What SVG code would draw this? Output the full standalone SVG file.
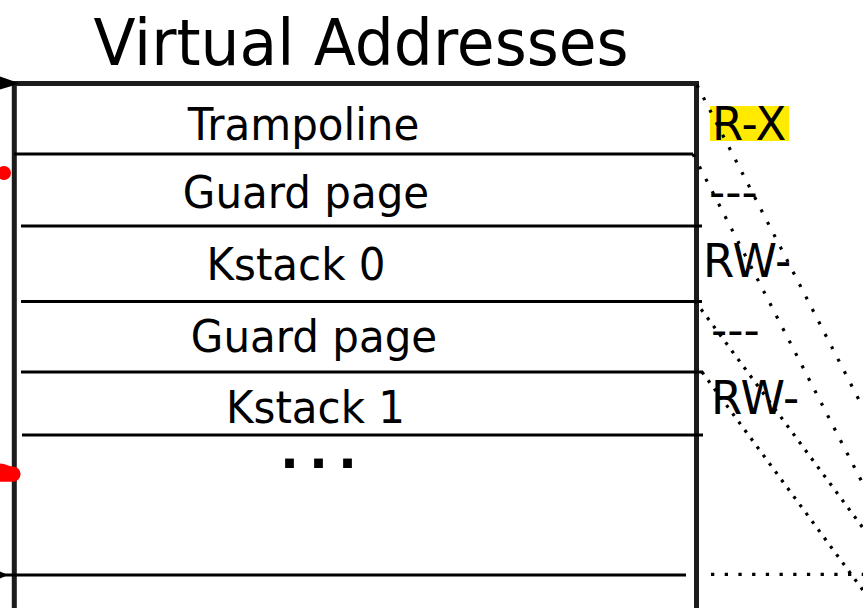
<svg xmlns="http://www.w3.org/2000/svg" width="863" height="608" viewBox="0 0 863 608">
  <style>
    .lbl { font-family: "DejaVu Sans", "Liberation Sans", sans-serif; fill: #000; }
    .title { font-size: 61.5px; }
    .row { font-size: 42px; text-anchor: middle; }
    .perm { font-size: 45px; }
    .frame { stroke: #1c1c1c; stroke-width: 5; fill: none; }
    .sep { stroke: #000; stroke-width: 3; fill: none; }
    .dotA { stroke: #000; stroke-width: 3.2; fill: none; stroke-dasharray: 3 11; }
    .dotB { stroke: #000; stroke-width: 3.2; fill: none; stroke-dasharray: 3 7.3; }
    .dotH { stroke: #000; stroke-width: 3.3; fill: none; stroke-dasharray: 3.3 10.4; }
  </style>

  <rect width="863" height="608" fill="#fff"/>

  <!-- heading -->
  <text id="title" class="lbl title" text-anchor="middle" transform="translate(361,65) scale(1,1.05)">Virtual Addresses</text>

  <!-- address space column -->
  <g id="column">
    <path class="frame" d="M14.3,608 V83.5 H696.5 V608"/>
  </g>

  <g id="trampoline">
    <line class="sep" x1="14" y1="154" x2="693" y2="154"/>
    <text class="lbl row" transform="translate(303.5,140) scale(1,1.06)">Trampoline</text>
  </g>
  <g id="guard0">
    <line class="sep" x1="21" y1="226" x2="702" y2="226"/>
    <text class="lbl row" transform="translate(306,208) scale(1,1.06)">Guard page</text>
  </g>
  <g id="kstack0">
    <line class="sep" x1="21" y1="301.5" x2="702" y2="301.5"/>
    <text class="lbl row" transform="translate(296,279.5) scale(1,1.06)">Kstack 0</text>
  </g>
  <g id="guard1">
    <line class="sep" x1="21" y1="372" x2="703" y2="372"/>
    <text class="lbl row" transform="translate(314,351.5) scale(1,1.06)">Guard page</text>
  </g>
  <g id="kstack1">
    <line class="sep" x1="22" y1="435" x2="703" y2="435"/>
    <text class="lbl row" transform="translate(315.5,423) scale(1,1.06)">Kstack 1</text>
  </g>
  <g id="more">
    <text class="lbl" x="280" y="468.3" font-size="50" font-weight="bold" letter-spacing="10">...</text>
  </g>
  <g id="bottom">
    <line class="sep" x1="0" y1="575" x2="686" y2="575"/>
  </g>

  <!-- permission labels -->
  <g id="perm-trampoline">
    <rect x="710" y="106" width="79" height="35" fill="#ffea00"/>
    <text class="lbl perm" transform="translate(712,140) scale(1,1.04)">R-X</text>
  </g>
  <g id="perm-guard0"><text class="lbl perm" x="709" y="207">---</text></g>
  <g id="perm-kstack0"><text class="lbl perm" font-size="46.5" transform="translate(703,276.7) scale(1,1.02)">RW-</text></g>
  <g id="perm-guard1"><text class="lbl perm" x="711" y="345">---</text></g>
  <g id="perm-kstack1"><text class="lbl perm" font-size="46.5" transform="translate(711,414) scale(1,1.02)">RW-</text></g>

  <!-- incoming pointers on the left edge -->
  <g id="pointers">
    <polygon points="0,76.5 20,83.5 0,89.5" fill="#000"/>
    <polygon points="0,571.5 8,575 0,578.5" fill="#000"/>
    <circle cx="4" cy="173" r="7" fill="#ff0000"/>
    <path d="M0,463.5 C6,463.5 8,466.5 13,466.5 A7.6,7.6 0 0 1 13,481.7 L0,481.7 Z" fill="#ff0000"/>
  </g>

  <!-- mapping connectors -->
  <g id="connectors">
    <line class="dotA" x1="697" y1="85" x2="863" y2="407.7"/>
    <line class="dotA" x1="693" y1="154" x2="863" y2="484"/>
    <line class="dotB" x1="695" y1="301" x2="863" y2="528"/>
    <line class="dotB" x1="702" y1="372" x2="863" y2="590.3"/>
    <line class="dotH" x1="711" y1="574.3" x2="863" y2="574.3"/>
  </g>
</svg>
